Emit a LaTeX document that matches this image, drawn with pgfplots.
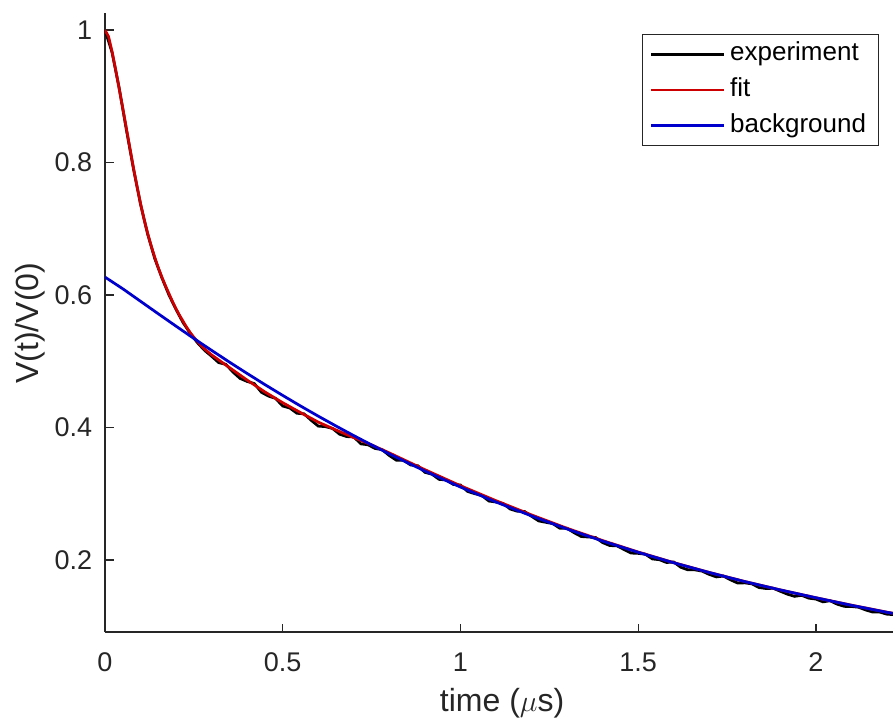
\documentclass[border=0pt]{standalone}
\usepackage{fontspec}
\setmainfont{Liberation Sans}
\usepackage{pgfplots}
\pgfplotsset{compat=1.18}
\usetikzlibrary{calc}

\definecolor{fitred}{rgb}{0.8,0,0}
\definecolor{bgblue}{rgb}{0,0,0.8}
\definecolor{axgray}{rgb}{0.15,0.15,0.15}

\begin{document}
\begin{tikzpicture}
\begin{axis}[
  scale only axis,
  width=315.2pt, height=247.6pt,
  xmin=0, xmax=2.217, ymin=0.0913, ymax=1.0257,
  axis x line=bottom, axis y line=left,
  axis line style={-, draw=axgray, line width=0.5pt},
  tick align=inside, major tick length=3.4pt,
  tick style={axgray, line width=0.5pt},
  xtick={0,0.5,1,1.5,2}, ytick={0.2,0.4,0.6,0.8,1},
  /pgf/number format/assume math mode=true,
  tick label style={font=\fontsize{10.8}{12}\selectfont, text=axgray},
  xticklabel style={yshift=-4.8pt},
  yticklabel style={xshift=-1.6pt},
  every axis x label/.style={at={(rel axis cs:0.504,0)}, anchor=base, yshift=-31.6pt,
    font=\fontsize{12.8}{14}\selectfont, text=axgray},
  every axis y label/.style={at={(rel axis cs:0,0.499)}, xshift=-26.7pt, rotate=90, anchor=base,
    font=\fontsize{12.8}{14}\selectfont, text=axgray},
  xlabel={time ($\mu$s)},
  ylabel={V(t)/V(0)},
  legend image code/.code={\draw[#1] (0pt,0pt) -- (29pt,0pt);},
  legend cell align=left,
  legend style={at={(1,1)}, anchor=north east, xshift=-5.6pt, yshift=-8.4pt,
    draw=axgray, line width=0.4pt, font=\fontsize{10.4}{12}\selectfont,
    row sep=4.5pt, inner xsep=3pt, inner ysep=3pt,
    nodes={inner ysep=0pt, text height=7.6pt, text depth=2.2pt}},
]
% experiment
\addplot[black, line width=1.1pt] table {
x y
0 1.000
0.02 0.966
0.04 0.912
0.06 0.850
0.08 0.791
0.10 0.737
0.12 0.692
0.14 0.655
0.16 0.626
0.18 0.600
0.20 0.578
0.22 0.558
0.24 0.542
0.26 0.528
0.28 0.5165
0.30 0.5075
0.32 0.4979
0.34 0.4953
0.36 0.4837
0.38 0.4741
0.40 0.4695
0.42 0.4663
0.44 0.4532
0.46 0.4474
0.48 0.4439
0.50 0.4324
0.52 0.4294
0.54 0.4215
0.56 0.4206
0.58 0.4109
0.60 0.4021
0.62 0.4013
0.64 0.3986
0.66 0.3899
0.68 0.3863
0.70 0.3857
0.72 0.3753
0.74 0.3739
0.76 0.3683
0.78 0.3665
0.80 0.3576
0.82 0.3505
0.84 0.3504
0.86 0.3434
0.88 0.3423
0.90 0.3323
0.92 0.3295
0.94 0.3217
0.96 0.3208
0.98 0.3140
1.00 0.3131
1.02 0.3036
1.04 0.3001
1.06 0.2975
1.08 0.2890
1.10 0.2875
1.12 0.2852
1.14 0.2769
1.16 0.2736
1.18 0.2733
1.20 0.2660
1.22 0.2590
1.24 0.2569
1.26 0.2549
1.28 0.2478
1.30 0.2478
1.32 0.2411
1.34 0.2354
1.36 0.2347
1.38 0.2340
1.40 0.2263
1.42 0.2218
1.44 0.2214
1.46 0.2159
1.48 0.2105
1.50 0.2100
1.52 0.2088
1.54 0.2016
1.56 0.2004
1.58 0.1962
1.60 0.1970
1.62 0.1890
1.64 0.1851
1.66 0.1851
1.68 0.1832
1.70 0.1782
1.72 0.1745
1.74 0.1757
1.76 0.1700
1.78 0.1652
1.80 0.1655
1.82 0.1640
1.84 0.1584
1.86 0.1569
1.88 0.1573
1.90 0.1528
1.92 0.1484
1.94 0.1451
1.96 0.1467
1.98 0.1424
2.00 0.1410
2.02 0.1368
2.04 0.1385
2.06 0.1333
2.08 0.1300
2.10 0.1298
2.12 0.1287
2.14 0.1246
2.16 0.1214
2.18 0.1213
2.20 0.1182
2.217 0.1176
};
\addlegendentry{experiment}
% fit
\addplot[fitred, line width=1.1pt] table {
x y
0 1.000
0.01 0.990
0.02 0.967
0.03 0.940
0.04 0.911
0.05 0.882
0.06 0.852
0.07 0.822
0.08 0.792
0.09 0.764
0.10 0.738
0.11 0.714
0.12 0.693
0.13 0.674
0.14 0.657
0.15 0.641
0.16 0.627
0.17 0.614
0.18 0.602
0.19 0.590
0.20 0.579
0.21 0.569
0.22 0.560
0.23 0.551
0.24 0.543
0.25 0.536
0.26 0.530
0.27 0.524
0.28 0.5185
0.29 0.5140
0.30 0.5095
0.35 0.4905
0.40 0.4715
0.45 0.4536
0.50 0.4374
0.55 0.4225
0.60 0.4081
0.65 0.3962
0.70 0.3847
0.75 0.3737
0.80 0.3616
0.90 0.3363
1.00 0.3121
1.10 0.2895
1.20 0.2680
1.30 0.2478
1.40 0.2293
1.50 0.2120
1.60 0.1960
1.70 0.1812
1.80 0.1675
1.90 0.1548
2.00 0.1430
2.10 0.1318
2.20 0.1212
2.217 0.1196
};
\addlegendentry{fit}
% background
\addplot[bgblue, line width=1.1pt] table {
x y
0 0.6270
0.05 0.6094
0.10 0.5905
0.15 0.5716
0.20 0.5529
0.25 0.5344
0.30 0.5164
0.35 0.4987
0.40 0.4815
0.45 0.4647
0.50 0.4484
0.55 0.4325
0.60 0.4171
0.65 0.4022
0.70 0.3877
0.75 0.3737
0.80 0.3601
0.90 0.3343
1.00 0.3101
1.10 0.2875
1.20 0.2665
1.30 0.2468
1.40 0.2286
1.50 0.2116
1.60 0.1958
1.70 0.1811
1.80 0.1674
1.90 0.1548
2.00 0.1430
2.10 0.1316
2.20 0.1210
2.217 0.1195
};
\addlegendentry{background}
\end{axis}
\pgfresetboundingbox
\path[use as bounding box] ($(current axis.south west)+(-42pt,-38pt)$) rectangle ($(current axis.north east)+(0pt,5.2pt)$);
\end{tikzpicture}
\end{document}
